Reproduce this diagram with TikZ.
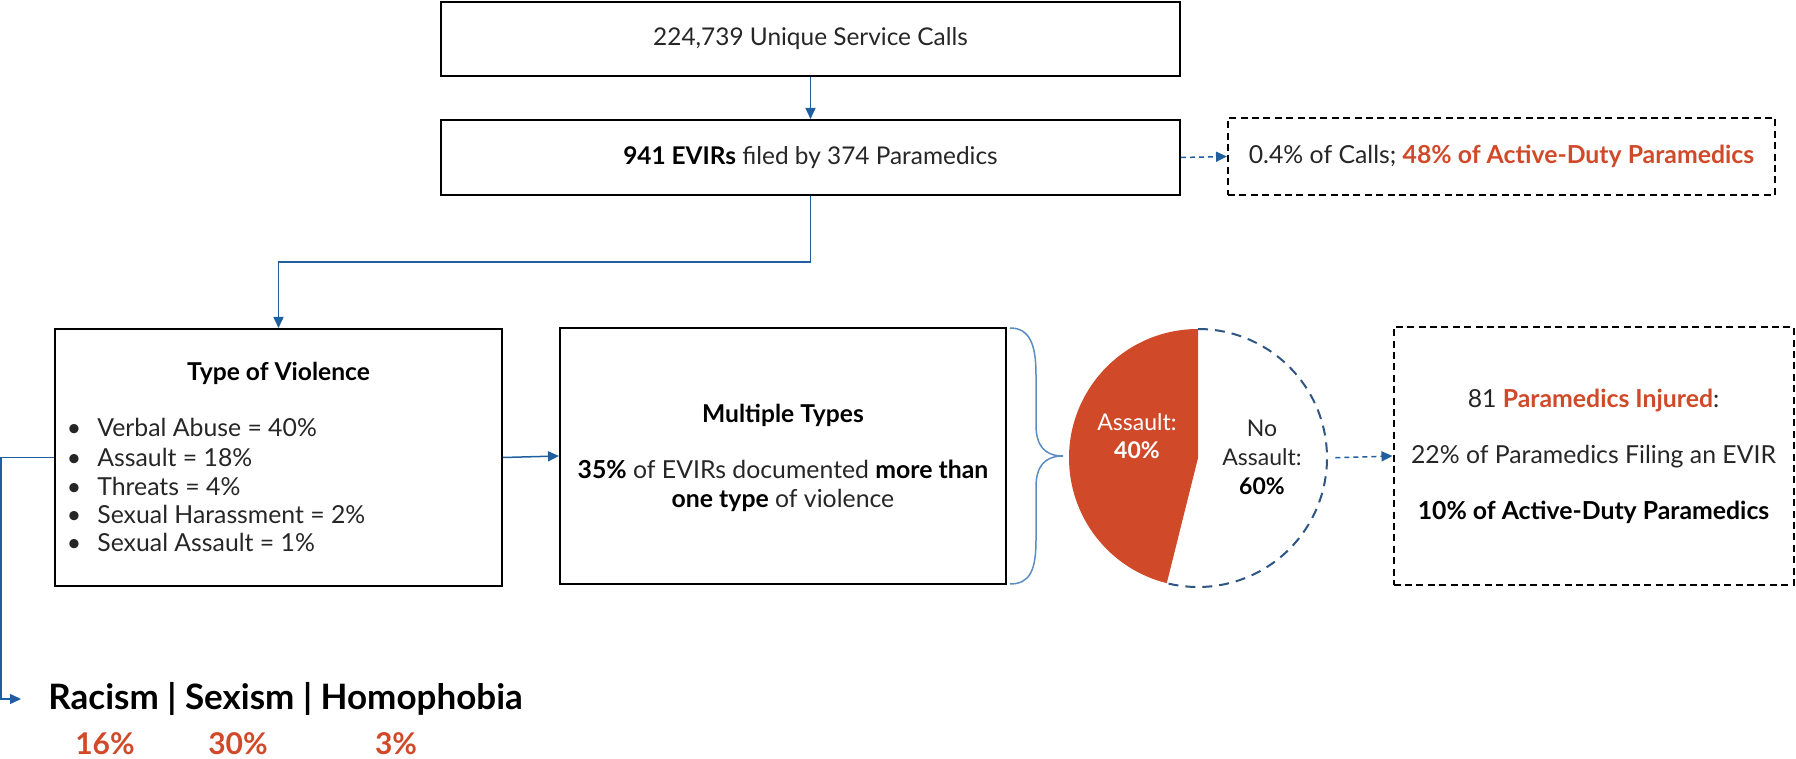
\documentclass[tikz,border=0pt]{standalone}
\usepackage{fontspec}
\setmainfont{Lato}
\usetikzlibrary{arrows.meta}
\definecolor{accent}{RGB}{208,74,42}
\definecolor{connc}{RGB}{31,95,160}
\definecolor{bracec}{RGB}{91,141,192}
\definecolor{piec}{RGB}{47,85,130}
\definecolor{txt}{RGB}{38,38,38}
\begin{document}
\begin{tikzpicture}[x=0.5pt,y=-0.5pt,
  every node/.style={text=txt},
  box/.style={draw=black,line width=1pt,inner sep=0pt},
  dbox/.style={draw=black,line width=1pt,dash pattern=on 3.5pt off 2.2pt,inner sep=0pt},
  conn/.style={draw=connc,line width=0.75pt,-{Triangle[length=5.5pt,width=5pt]}},
  dconn/.style={conn,dash pattern=on 2.5pt off 2pt},
  bodyfont/.style={font=\fontsize{12.4}{14.5}\selectfont},
  titlefont/.style={font=\fontsize{12.3}{14}\selectfont\bfseries,text=black},
  pct/.style={font=\fontsize{15}{17}\selectfont\bfseries,text=accent,inner sep=0pt,anchor=base}]
\useasboundingbox (0,0) rectangle (1796,759);

% top boxes
\node[box,minimum width=369.5pt,minimum height=37pt,font=\fontsize{12.2}{14}\selectfont] (calls) at (810.5,39)
  {224,739 Unique Service Calls};
\node[box,minimum width=369.5pt,minimum height=37.5pt,font=\fontsize{12.2}{14}\selectfont] (evir) at (810.5,157.5)
  {\textcolor{black}{\textbf{941 EVIRs}} filed by 374 Paramedics};
\node[dbox,minimum width=273.5pt,minimum height=38.5pt,bodyfont] (note) at (1501.5,156.5)
  {0.4\% of Calls; \textcolor{accent}{\textbf{48\% of Active-Duty Paramedics}}};

% type of violence
\node[box,minimum width=223.5pt,minimum height=128.5pt] (tov) at (278.5,457.5) {};
\node[titlefont] (tovt) at (278.5,373) {Type of Violence};
\foreach \t/\yy [count=\i] in {Verbal Abuse = 40\%/428,Assault = 18\%/458,Threats = 4\%/487,Sexual Harassment = 2\%/515,Sexual Assault = 1\%/543}{
  \node[bodyfont,anchor=base,inner sep=0pt] (bul\i) at (74,\yy+8.5) {\textbullet};
  \node[bodyfont,anchor=base west,inner sep=0pt] (item\i) at (97,\yy+8.5) {\t};
}

% multiple types
\node[box,minimum width=223pt,minimum height=128pt] (multi) at (783,456) {};
\node[titlefont] (multit) at (783,415) {Multiple Types};
\node[bodyfont,align=center] (multib) at (783,486)
  {\textcolor{black}{\textbf{35\%}} of EVIRs documented \textcolor{black}{\textbf{more than}}\\\textcolor{black}{\textbf{one type}} of violence};

% brace
\draw[bracec,line width=0.75pt] (1010,328) .. controls (1030,328) and (1036,345) .. (1036,375)
  -- (1036,425) .. controls (1036,446) and (1045,456) .. (1063,456)
  .. controls (1045,456) and (1036,466) .. (1036,487)
  -- (1036,540) .. controls (1036,570) and (1030,584) .. (1010,584);

% pie
\node[circle,minimum size=129pt,inner sep=0pt] (pie) at (1198,458) {};
\fill[accent] (pie.center) -- (1198,329) arc[start angle=-90,end angle=-256,radius=129] -- cycle;
\draw[piec,line width=1pt,dash pattern=on 5pt off 3.5pt] (1198,329) arc[start angle=-90,end angle=104,radius=129];
\node[align=center,font=\fontsize{11.5}{14}\selectfont,text=white] (asl) at (1137,436) {Assault:\\\textbf{40\%}};
\node[align=center,font=\fontsize{11.5}{14.5}\selectfont] (noasl) at (1262,457) {No\\Assault:\\\textcolor{black}{\textbf{60\%}}};

% injured
\node[dbox,minimum width=200pt,minimum height=129pt,align=center,font=\fontsize{12.4}{28}\selectfont] (inj) at (1593.5,456)
  {81 \textcolor{accent}{\textbf{Paramedics Injured}}:\\22\% of Paramedics Filing an EVIR\\\textcolor{black}{\textbf{10\% of Active-Duty Paramedics}}};

% bottom
\node[anchor=west,inner ysep=0pt,inner xsep=13.5pt,font=\fontsize{17.5}{20}\selectfont\bfseries,text=black] (rac) at (21,699) {Racism | Sexism | Homophobia};
\node[pct] (p1) at (105,754) {16\%};
\node[pct] (p2) at (238,754) {30\%};
\node[pct] (p3) at (396,754) {3\%};

% connectors
\draw[conn] (calls) -- (evir);
\draw[dconn] (evir.east) -- (note.west);
\draw[conn] (evir.south) -- ++(0,66) -| (tov.north);
\draw[conn] (tov.east) -- (multi.west);
\draw[dconn,shorten <=4pt] (pie.east) -- (inj.west);
\draw[conn] (tov.west) -- (1,457.5) |- (rac.west);
\end{tikzpicture}
\end{document}
